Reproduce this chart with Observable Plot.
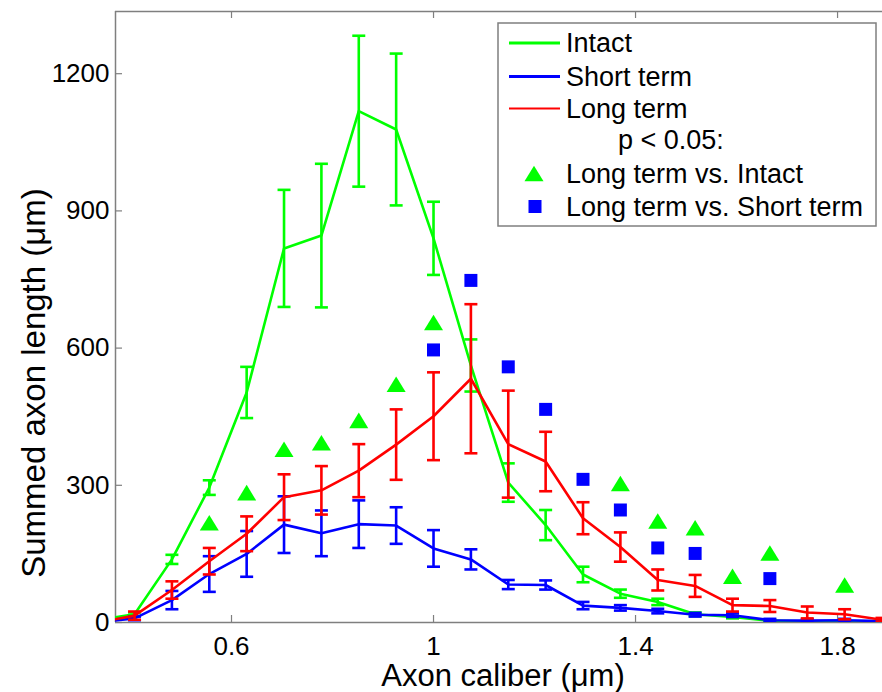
<!DOCTYPE html>
<html><head><meta charset="utf-8">
<script src="https://cdn.jsdelivr.net/npm/d3@7"></script>
<script src="https://cdn.jsdelivr.net/npm/@observablehq/plot@0.6"></script>
<style>
html,body{margin:0;padding:0;background:#fff;overflow:hidden}
#wrap{position:relative;width:882px;height:692px}
#legend{position:absolute;left:0;top:0}
</style></head><body><div id="wrap"></div>
<script>
// ---- data ----
const caliber = [0.334,0.408,0.482,0.556,0.630,0.704,0.778,0.852,0.926,1.000,1.074,1.148,1.222,1.296,1.370,1.444,1.518,1.592,1.666,1.740,1.814,1.888];
const intactMean  = [5,18,138,295,503,818,846,1118,1078,840,562,306,213,105,63,45,18,12,4,2,1,1];
const intactErr   = [2,4,10,16,56,128,157,165,166,80,57,42,33,17,9,7,4,3,2,1,1,1];
const shortMean   = [0,9,49,106,150,214,195,215,212,162,138,83,82,37,32,25,17,16,5,4,5,3];
const shortErr    = [0,4,20,39,50,62,50,52,40,40,22,10,10,8,6,5,4,4,3,3,3,3];
const longMean    = [0,15,71,134,194,274,289,332,389,451,533,390,352,228,165,93,80,38,36,22,18,6];
const longErr     = [0,9,19,29,38,50,53,58,77,96,163,117,65,35,32,23,24,14,13,13,11,4];
const vsIntactX   = [0.556,0.630,0.704,0.778,0.852,0.926,1.000,1.370,1.444,1.518,1.592,1.666,1.814];
const vsIntactY   = [218,284,379,393,442,521,656,304,222,207,101,152,82];
const vsShortX    = [1.000,1.074,1.148,1.222,1.296,1.370,1.444,1.518,1.666];
const vsShortY    = [596,748,559,466,313,246,163,151,96];
const xTicks = [0.6,1,1.4,1.8];
const yTicks = [0,300,600,900,1200];
const seriesNames = ["Intact","Short term","Long term"];
const seriesColors = ["#00ff00","#0000ff","#ff0000"];
const legendLabels = ["Intact","Short term","Long term","p < 0.05:","Long term vs. Intact","Long term vs. Short term"];
const xLabel = "Axon caliber (\u03bcm)";
const yLabel = "Summed axon length (\u03bcm)";

// ---- layout ----
const W = 882, H = 692, ML = 115, MR = 0, MT = 11, MB = 70;
const X0 = 0.3703, X1 = 1.889, YMAX = 1336;
const plotW = W - ML - MR, plotH = H - MT - MB;
const AX = "#7f7f7f";
const FONT = "'Liberation Sans', Arial, Helvetica, sans-serif";

const capSymbol = {draw(ctx, size){ const r = Math.sqrt(size/Math.PI); ctx.moveTo(-r,0); ctx.lineTo(r,0); }};
const triSymbol = {draw(ctx, size){ const r = Math.sqrt(size/Math.PI); const h = 0.82*r; ctx.moveTo(0,-h); ctx.lineTo(r,h); ctx.lineTo(-r,h); ctx.closePath(); }};

const means = [intactMean, shortMean, longMean];
const errs = [intactErr, shortErr, longErr];
const seriesMarks = [];
means.forEach((m, s) => {
  const rows = caliber.map((x, i) => ({x, y: m[i], lo: m[i] - errs[s][i], hi: m[i] + errs[s][i]}));
  const c = seriesColors[s];
  seriesMarks.push(
    Plot.line(rows, {x: "x", y: "y", stroke: c, strokeWidth: 2.6, clip: true}),
    Plot.ruleX(rows, {x: "x", y1: "lo", y2: "hi", stroke: c, strokeWidth: 2.6, clip: true}),
    Plot.dot(rows, {x: "x", y: "lo", symbol: capSymbol, r: 6.5, fill: "none", stroke: c, strokeWidth: 2.6, clip: true}),
    Plot.dot(rows, {x: "x", y: "hi", symbol: capSymbol, r: 6.5, fill: "none", stroke: c, strokeWidth: 2.6, clip: true})
  );
});
const triRows = vsIntactX.map((x, i) => ({x, y: vsIntactY[i]}));
const sqRows = vsShortX.map((x, i) => ({x, y: vsShortY[i]}));

const chart = Plot.plot({
  width: W, height: H,
  marginLeft: ML, marginRight: MR, marginTop: MT, marginBottom: MB,
  x: {domain: [X0, X1]},
  y: {domain: [0, YMAX]},
  style: {fontFamily: FONT, fontSize: "26px", color: "#000", background: "#fff", overflow: "visible"},
  marks: [
    Plot.axisX(xTicks, {tickSize: 0, tickPadding: 14, tickFormat: d => String(d), label: null, fill: "#000"}),
    Plot.axisY(yTicks, {tickSize: 0, tickPadding: 6, tickFormat: d => String(d), label: null, fill: "#000"}),
    Plot.ruleX([X0], {stroke: AX, strokeWidth: 1.5}),
    Plot.ruleY([0], {stroke: AX, strokeWidth: 1.5}),
    Plot.ruleY([YMAX], {stroke: AX, strokeWidth: 1.5}),
    Plot.tickX(xTicks, {x: d => d, insetTop: plotH - 7, stroke: AX, strokeWidth: 1.2}),
    Plot.tickX(xTicks, {x: d => d, insetBottom: plotH - 7, stroke: AX, strokeWidth: 1.2}),
    Plot.tickY(yTicks, {y: d => d, insetRight: plotW - 7, stroke: AX, strokeWidth: 1.2}),
    ...seriesMarks,
    Plot.dot(triRows, {x: "x", y: "y", symbol: triSymbol, r: 9.5, fill: "#00ff00", stroke: "none", clip: true}),
    Plot.dot(sqRows, {x: "x", y: "y", symbol: "square", r: 7.33, fill: "#0000ff", stroke: "none", clip: true}),
    Plot.text([xLabel], {frameAnchor: "bottom", dx: 4, dy: 54, textAnchor: "middle", lineAnchor: "middle", fontSize: 31, fill: "#000"}),
    Plot.text([yLabel], {frameAnchor: "left", dx: -81, dy: 66, rotate: -90, textAnchor: "middle", lineAnchor: "middle", fontSize: 33, fill: "#000"})
  ]
});
const wrap = document.getElementById("wrap");
wrap.appendChild(chart);

// ---- legend (overlay) ----
const lg = d3.select(wrap).append("svg").attr("id", "legend")
  .attr("width", W).attr("height", H).style("pointer-events", "none");
const bx = 498, by = 23, bw = 378, bh = 203;
lg.append("rect").attr("x", bx).attr("y", by).attr("width", bw).attr("height", bh)
  .attr("fill", "#fff").attr("stroke", AX).attr("stroke-width", 1.5);
const rowY = [20, 53.5, 85.5, 117, 150.5, 183.5];
const g = lg.append("g").attr("transform", `translate(${bx},${by})`)
  .style("font-family", FONT).style("font-size", "27px");
legendLabels.forEach((lab, i) => {
  const y = rowY[i];
  if (i < 3) {
    g.append("line").attr("x1", 11).attr("x2", 62).attr("y1", y).attr("y2", y)
      .attr("stroke", seriesColors[i]).attr("stroke-width", i === 2 ? 2 : 3);
  } else if (i === 4) {
    g.append("path").attr("d", "M36,"+(y-7.8)+"L45.5,"+(y+7.8)+"L26.5,"+(y+7.8)+"Z").attr("fill", "#00ff00");
  } else if (i === 5) {
    g.append("rect").attr("x", 30.5).attr("y", y - 6.5).attr("width", 13).attr("height", 13).attr("fill", "#0000ff");
  }
  g.append("text").attr("x", i === 3 ? 120 : 68).attr("y", y).attr("dy", "0.35em").attr("fill", "#000").text(lab);
});
</script></body></html>
